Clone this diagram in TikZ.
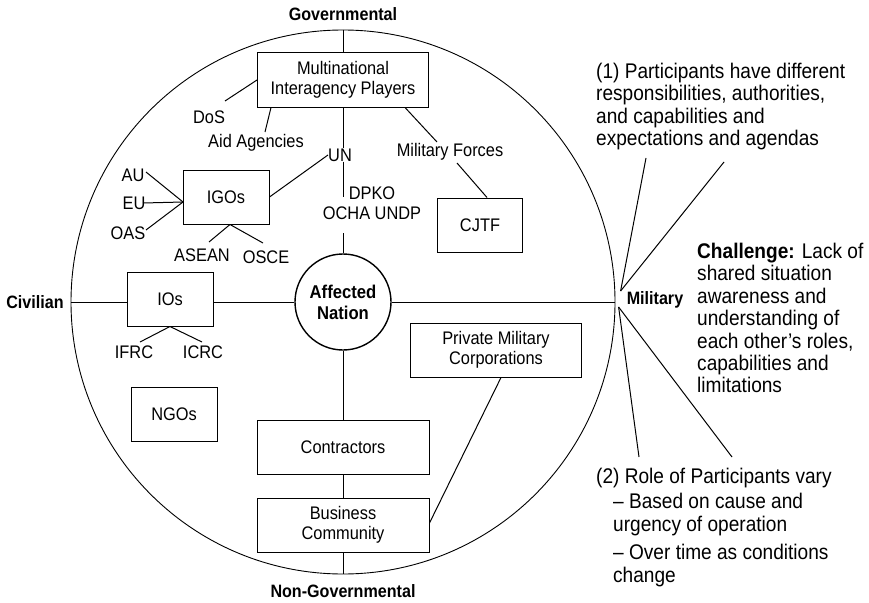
\documentclass[tikz,border=0pt]{standalone}
\usepackage{fontspec}
\setmainfont[FakeStretch=0.9]{Liberation Sans}
\begin{document}
\begin{tikzpicture}[x=1pt,y=-1pt,
  lbl/.style={inner sep=0pt, font=\fontsize{18.2}{20}\selectfont},
  boldlbl/.style={inner sep=0pt, font=\fontsize{17.9}{20}\selectfont\bfseries},
  box/.style={draw, line width=1pt, inner sep=0pt, align=center, minimum height=54pt,
    font=\fontsize{18.2}{20.5}\selectfont},
  conn/.style={line width=1pt},
  sidetext/.style={inner sep=0pt, align=left, anchor=north west,
    font=\fontsize{21.2}{22.4}\selectfont}]
\fill[white] (0,0) rectangle (869,602);
\useasboundingbox (0,0) rectangle (869,602);

% circles
\node[draw, circle, line width=0.9pt, minimum size=544pt, inner sep=0pt] (ring) at (343,302) {};
\node[draw, circle, line width=1.4pt, minimum size=96pt, inner sep=0pt, fill=white, align=center,
  font=\fontsize{18.5}{21}\selectfont\bfseries] (aff) at (343,302) {Affected\\Nation};

% boxes
\node[box, minimum width=171pt] (mip) at (343,80) {Multinational\\Interagency Players};
\node[box, minimum width=86pt] (igo) at (226,197) {IGOs};
\node[box, minimum width=85pt] (cjtf) at (480,225) {CJTF};
\node[box, minimum width=86pt] (ios) at (170,299) {IOs};
\node[box, minimum width=86pt] (ngo) at (174,414) {NGOs};
\node[box, minimum width=171pt] (pmc) at (496,350) {Private Military\\Corporations};
\node[box, minimum width=172pt] (con) at (343,447) {Contractors};
\node[box, minimum width=172pt] (bus) at (343,525) {Business\\Community};

% axis labels
\node[boldlbl] (gov) at (343,14) {Governmental};
\node[boldlbl] (nongov) at (343,591) {Non-Governmental};
\node[boldlbl] (civ) at (35,302) {Civilian};
\node[boldlbl] (mil) at (655,300) {Military};

% small labels
\node[lbl] (dos) at (209,117) {DoS};
\node[lbl] (aid) at (256,143) {Aid Agencies};
\node[lbl] (un) at (340,155) {UN};
\node[lbl, align=center] (dpko) at (372,203) {DPKO\\OCHA UNDP};
\node[lbl] (mf) at (450,152) {Military Forces};
\node[lbl] (au) at (133,175) {AU};
\node[lbl] (eu) at (134,203) {EU};
\node[lbl] (oas) at (128,233) {OAS};
\node[lbl] (asean) at (202,255) {ASEAN};
\node[lbl] (osce) at (266,257) {OSCE};
\node[lbl] (ifrc) at (134,352) {IFRC};
\node[lbl] (icrc) at (203,352) {ICRC};

% side texts
\node[sidetext] (p1) at (596,63) {(1) Participants have different\\responsibilities, authorities,\\and capabilities and\\expectations and agendas};
\node[sidetext] (chal) at (697,243) {\textbf{Challenge:} Lack of\\shared situation\\awareness and\\understanding of\\each other’s roles,\\capabilities and\\limitations};
\node[sidetext] (p2) at (596,468) {(2) Role of Participants vary\\[3pt]
  \hspace*{17pt}– Based on cause and\\
  \hspace*{17pt}urgency of operation\\[6pt]
  \hspace*{17pt}– Over time as conditions\\
  \hspace*{17pt}change};

% named free ends
\coordinate (un1) at (343,197);
\coordinate (un2) at (343,233);
\coordinate (conv) at (183,202);
\coordinate (p1a) at (646,158);
\coordinate (p1b) at (724,162);
\coordinate (p2a) at (639,457);
\coordinate (p2b) at (732,457);

% spine
\draw[conn] (ring.north) -- (mip.north);
\draw[conn] (mip.south) -- (mip.south |- un.north);
\draw[conn] (mip.south |- un.south) -- (un1);
\draw[conn] (un2) -- (aff.north);
\draw[conn] (aff.south) -- (con.north);
\draw[conn] (con.south) -- (bus.north);
\draw[conn] (bus.south) -- (ring.south);
\draw[conn] (ring.west) -- (ios.west |- aff);
\draw[conn] (ios.east |- aff) -- (aff.west);
\draw[conn] (aff.east) -- (ring.east);

% branches
\draw[conn] ([shift={(16,-16)}]dos.center) -- (mip.west);
\draw[conn] ([shift={(9,-11)}]aid.center) -- ([shift={(14,0)}]mip.south west);
\draw[conn] (un.west) -- (igo.east);
\draw[conn] ([shift={(-24,0)}]mip.south east) -- ([shift={(-13,-10)}]mf.center);
\draw[conn] ([shift={(7,11)}]mf.center) -- ([shift={(7,0)}]cjtf.north);
\draw[conn] ([shift={(13,-3)}]au.center) -- (conv);
\draw[conn] ([shift={(9,0)}]eu.center) -- (conv);
\draw[conn] ([shift={(18,-3)}]oas.center) -- (conv);
\draw[conn] ([shift={(7,-13)}]asean.center) -- ([shift={(4,0)}]igo.south);
\draw[conn] ([shift={(-3,-14)}]osce.center) -- ([shift={(4,0)}]igo.south);
\draw[conn] (ios.south) -- ([shift={(6,-10)}]ifrc.center);
\draw[conn] (ios.south) -- ([shift={(-1,-10)}]icrc.center);
\draw[conn] ([shift={(5,0)}]pmc.south) -- ([shift={(0,-2)}]bus.east);

% military fan
\draw[conn] ([shift={(-6,-9)}]mil.west) -- (p1a);
\draw[conn] ([shift={(-6,-9)}]mil.west) -- (p1b);
\draw[conn] ([shift={(-8,7)}]mil.west) -- (p2a);
\draw[conn] ([shift={(-8,7)}]mil.west) -- (p2b);
\end{tikzpicture}
\end{document}
